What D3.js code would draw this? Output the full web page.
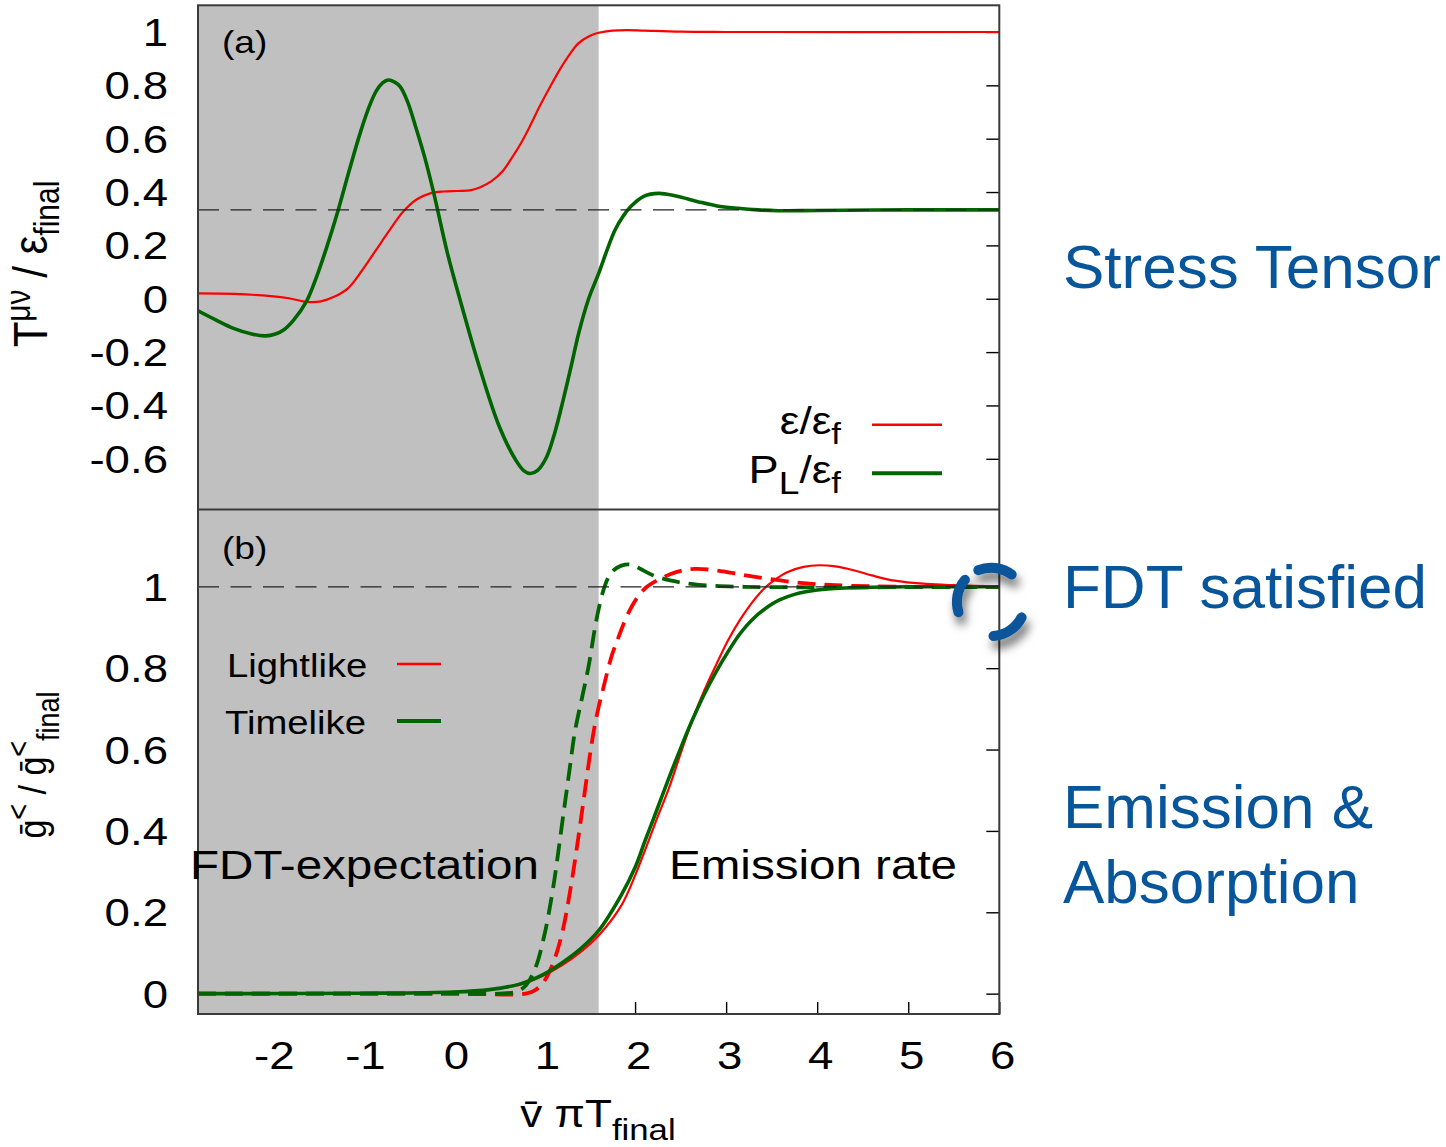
<!DOCTYPE html>
<html>
<head>
<meta charset="utf-8">
<script src="https://cdn.jsdelivr.net/npm/d3@7"></script>
<style>
  html, body { margin: 0; padding: 0; background: #fff; }
  svg { display: block; }
  text { white-space: pre; }
</style>
</head>
<body>
<svg id="chart" width="1446" height="1147"></svg>
<script>
// ---------------- data ----------------
const xTicks = [-2, -1, 0, 1, 2, 3, 4, 5, 6];
const yTicksTop = [-0.6, -0.4, -0.2, 0, 0.2, 0.4, 0.6, 0.8, 1];
const yTicksBottom = [0, 0.2, 0.4, 0.6, 0.8, 1];
const shadeEnd = 1.6;          // end of the FDT-expectation window
const pressureRef = 1 / 3;     // conformal value of P_L / eps_f
const fdtRef = 1;              // FDT value of g< / g<_final

// panel (a): energy density eps/eps_f
const energyX = [-2.8, -2.4, -2.0, -1.8, -1.6, -1.45, -1.3, -1.15, -1.0, -0.85, -0.7, -0.55, -0.4, -0.25, -0.1, 0.05, 0.2, 0.3, 0.42, 0.55, 0.65, 0.75, 0.85, 0.95, 1.06, 1.17, 1.28, 1.38, 1.5, 1.6, 1.75, 1.91, 2.1, 2.5, 3.0, 6.0];
const energyY = [0.02, 0.018, 0.01, 0.002, -0.012, -0.01, 0.008, 0.04, 0.105, 0.18, 0.255, 0.325, 0.372, 0.395, 0.402, 0.404, 0.407, 0.418, 0.44, 0.48, 0.53, 0.585, 0.65, 0.72, 0.79, 0.857, 0.915, 0.958, 0.985, 0.997, 1.005, 1.007, 1.005, 1.001, 1.0, 1.0];

// panel (a): longitudinal pressure P_L/eps_f
const pressureX = [-2.8, -2.6, -2.41, -2.2, -2.06, -1.95, -1.86, -1.75, -1.61, -1.5, -1.38, -1.26, -1.14, -1.02, -0.92, -0.84, -0.77, -0.71, -0.64, -0.58, -0.5, -0.41, -0.31, -0.21, -0.06, 0.12, 0.29, 0.51, 0.69, 0.78, 0.85, 0.93, 1.03, 1.12, 1.21, 1.3, 1.38, 1.49, 1.6, 1.7, 1.78, 1.87, 1.95, 2.1, 2.26, 2.45, 2.69, 2.9, 3.13, 3.35, 3.57, 4.0, 5.0, 6.0];
const pressureY = [-0.045, -0.08, -0.111, -0.133, -0.139, -0.132, -0.117, -0.08, -0.011, 0.08, 0.2, 0.333, 0.48, 0.62, 0.72, 0.78, 0.81, 0.82, 0.812, 0.795, 0.74, 0.645, 0.53, 0.395, 0.17, -0.055, -0.255, -0.48, -0.605, -0.645, -0.655, -0.643, -0.592, -0.5, -0.38, -0.25, -0.13, 0.0, 0.095, 0.19, 0.258, 0.31, 0.345, 0.385, 0.395, 0.385, 0.364, 0.348, 0.339, 0.333, 0.33, 0.331, 0.333, 0.333];

// panel (b): emission rate (solid)
const lightEmitX = [-2.8, -1.0, 0.0, 0.4, 0.74, 1.0, 1.2, 1.4, 1.6, 1.85, 2.0, 2.11, 2.24, 2.37, 2.5, 2.63, 2.76, 2.89, 3.02, 3.15, 3.28, 3.41, 3.54, 3.67, 3.85, 4.02, 4.2, 4.41, 4.6, 4.85, 5.2, 5.5, 6.0];
const lightEmitY = [0.0, 0.001, 0.004, 0.01, 0.022, 0.045, 0.07, 0.102, 0.143, 0.217, 0.29, 0.353, 0.43, 0.504, 0.59, 0.673, 0.745, 0.808, 0.868, 0.918, 0.96, 0.994, 1.018, 1.036, 1.049, 1.053, 1.05, 1.04, 1.028, 1.015, 1.007, 1.004, 1.001];
const timeEmitX = [-2.8, -1.0, 0.0, 0.4, 0.74, 1.0, 1.2, 1.4, 1.6, 1.85, 2.0, 2.11, 2.24, 2.37, 2.5, 2.63, 2.76, 2.89, 3.02, 3.15, 3.28, 3.41, 3.58, 3.76, 4.0, 4.19, 4.6, 5.0, 6.0];
const timeEmitY = [0.0, 0.001, 0.004, 0.01, 0.024, 0.048, 0.076, 0.11, 0.155, 0.243, 0.31, 0.376, 0.452, 0.529, 0.603, 0.673, 0.736, 0.791, 0.84, 0.884, 0.918, 0.943, 0.967, 0.982, 0.992, 0.996, 0.999, 1.0, 1.0];

// panel (b): FDT expectation (dashed)
const lightFdtX = [-2.8, 0.0, 0.8, 0.9, 1.0, 1.1, 1.2, 1.3, 1.4, 1.45, 1.5, 1.55, 1.6, 1.65, 1.7, 1.75, 1.8, 1.85, 1.91, 2.02, 2.13, 2.28, 2.45, 2.65, 2.9, 3.3, 3.76, 4.2, 5.0, 6.0];
const lightFdtY = [0.0, 0.0, 0.0, 0.008, 0.03, 0.075, 0.15, 0.27, 0.42, 0.5, 0.58, 0.65, 0.705, 0.75, 0.795, 0.835, 0.865, 0.895, 0.928, 0.972, 1.0, 1.02, 1.036, 1.044, 1.04, 1.025, 1.011, 1.004, 1.0, 1.0];
const timeFdtX = [-2.8, 0.0, 0.5, 0.7, 0.8, 0.9, 1.0, 1.1, 1.2, 1.28, 1.34, 1.42, 1.49, 1.56, 1.6, 1.65, 1.7, 1.76, 1.85, 1.95, 2.05, 2.2, 2.4, 2.7, 3.2, 6.0];
const timeFdtY = [0.0, 0.0, 0.0, 0.005, 0.02, 0.06, 0.14, 0.26, 0.42, 0.55, 0.645, 0.73, 0.805, 0.9, 0.945, 0.99, 1.02, 1.04, 1.052, 1.055, 1.045, 1.028, 1.015, 1.005, 1.0, 1.0];

// ---------------- layout ----------------
const svg = d3.select("#chart");
const FONT = "'Liberation Sans', Arial, Helvetica, sans-serif";
const SX = 1.16;                 // horizontal stretch of the plot lettering
const SX_TICK = 1.2;             // tick numbers are set a little wider
const L = 198, R = 999.3, T = 5.3, MID = 509.5, B = 1014;

const x = d3.scaleLinear().domain([-2.8, 6]).range([L, R]);
const yTop = d3.scaleLinear().domain([-0.79, 1.1]).range([MID, T]);
const yBot = d3.scaleLinear().domain([-0.05, 1.19]).range([B, MID]);

const RED = "#ff0000", GREEN = "#006400", BLUE = "#07559a", SHADE = "#c0c0c0";

const defs = svg.append("defs");
defs.append("clipPath").attr("id", "clipTop").append("rect")
  .attr("x", L).attr("y", T).attr("width", R - L).attr("height", MID - T);
defs.append("clipPath").attr("id", "clipBot").append("rect")
  .attr("x", L).attr("y", MID).attr("width", R - L).attr("height", B - MID);
const shadow = defs.append("filter").attr("id", "ringShadow")
  .attr("x", "-50%").attr("y", "-50%").attr("width", "200%").attr("height", "200%");
shadow.append("feDropShadow").attr("dx", 3).attr("dy", 8).attr("stdDeviation", 5)
  .attr("flood-color", "#000").attr("flood-opacity", 0.55);

// rich text helper: parts are tspans with their own size and baseline shifts
function label(parent, px, py, parts, opts = {}) {
  const sx = opts.sx ?? SX;
  const t = parent.append("text")
    .attr("transform", `translate(${px},${py}) scale(${sx},1)` + (opts.rotate ? ` rotate(${opts.rotate})` : ""))
    .attr("text-anchor", opts.anchor || "start")
    .attr("font-family", FONT)
    .attr("fill", opts.fill || "#000");
  parts.forEach(p => {
    const s = t.append("tspan").attr("font-size", p.size).text(p.t);
    if (p.dy) s.attr("dy", p.dy);
    if (p.dx) s.attr("dx", p.dx);
  });
  return t;
}

// ---------------- inner ticks (right and bottom mirrors) ----------------
function styleTicks(g) {
  g.select(".domain").remove();
  g.selectAll(".tick line").attr("stroke", "#000").attr("stroke-width", 1.4);
  g.selectAll(".tick text").remove();
}
svg.append("g").attr("transform", `translate(${R},0)`)
  .call(d3.axisRight(yTop).tickValues(yTicksTop).tickSizeInner(-13).tickSizeOuter(0).tickFormat(""))
  .call(styleTicks);
svg.append("g").attr("transform", `translate(${R},0)`)
  .call(d3.axisRight(yBot).tickValues(yTicksBottom).tickSizeInner(-13).tickSizeOuter(0).tickFormat(""))
  .call(styleTicks);
svg.append("g").attr("transform", `translate(0,${B})`)
  .call(d3.axisBottom(x).tickValues(xTicks).tickSizeInner(-12).tickSizeOuter(0).tickFormat(""))
  .call(styleTicks);

// ---------------- shaded FDT window ----------------
svg.append("rect")
  .attr("x", x(-2.8)).attr("y", T)
  .attr("width", x(shadeEnd) - x(-2.8)).attr("height", B - T)
  .attr("fill", SHADE);

// ---------------- curves ----------------
const smooth = d3.curveCatmullRom.alpha(0.5);
const lineTop = d3.line().x(d => x(d[0])).y(d => yTop(d[1])).curve(smooth);
const lineBot = d3.line().x(d => x(d[0])).y(d => yBot(d[1])).curve(smooth);

const gTop = svg.append("g").attr("clip-path", "url(#clipTop)");
gTop.append("path").datum(d3.zip(energyX, energyY)).attr("d", lineTop)
  .attr("fill", "none").attr("stroke", RED).attr("stroke-width", 2.2);
gTop.append("path").datum(d3.zip(pressureX, pressureY)).attr("d", lineTop)
  .attr("fill", "none").attr("stroke", GREEN).attr("stroke-width", 3.6);
gTop.append("line")
  .attr("x1", L).attr("x2", R).attr("y1", yTop(pressureRef)).attr("y2", yTop(pressureRef))
  .attr("stroke", "#222").attr("stroke-width", 1.2).attr("stroke-dasharray", "21,11.5");

const gBot = svg.append("g").attr("clip-path", "url(#clipBot)");
gBot.append("path").datum(d3.zip(lightFdtX, lightFdtY)).attr("d", lineBot)
  .attr("fill", "none").attr("stroke", RED).attr("stroke-width", 3.8).attr("stroke-dasharray", "18,9");
gBot.append("path").datum(d3.zip(timeFdtX, timeFdtY)).attr("d", lineBot)
  .attr("fill", "none").attr("stroke", GREEN).attr("stroke-width", 3.8).attr("stroke-dasharray", "18,9");
gBot.append("path").datum(d3.zip(lightEmitX, lightEmitY)).attr("d", lineBot)
  .attr("fill", "none").attr("stroke", RED).attr("stroke-width", 2.2);
gBot.append("path").datum(d3.zip(timeEmitX, timeEmitY)).attr("d", lineBot)
  .attr("fill", "none").attr("stroke", GREEN).attr("stroke-width", 3.6);
gBot.append("line")
  .attr("x1", L).attr("x2", R).attr("y1", yBot(fdtRef)).attr("y2", yBot(fdtRef))
  .attr("stroke", "#222").attr("stroke-width", 1.2).attr("stroke-dasharray", "21,11.5");

// ---------------- frame ----------------
svg.append("rect").attr("x", L).attr("y", T).attr("width", R - L).attr("height", B - T)
  .attr("fill", "none").attr("stroke", "#3a3a3a").attr("stroke-width", 2);
svg.append("line").attr("x1", L).attr("x2", R).attr("y1", MID).attr("y2", MID)
  .attr("stroke", "#3a3a3a").attr("stroke-width", 2);

// ---------------- tick labels ----------------
function styleLabels(g, tf) {
  g.select(".domain").remove();
  g.selectAll(".tick line").remove();
  g.attr("font-family", FONT).attr("font-size", 38);
  g.selectAll(".tick text").attr("fill", "#000").attr("x", 0).attr("y", 0).attr("dy", null).attr("transform", tf);
}
svg.append("g").attr("transform", `translate(${L},0)`)
  .call(d3.axisLeft(yTop).tickValues(yTicksTop).tickSize(0).tickFormat(d => String(d)))
  .call(g => styleLabels(g, `translate(-30,13.5) scale(${SX_TICK},1)`));
svg.append("g").attr("transform", `translate(${L},0)`)
  .call(d3.axisLeft(yBot).tickValues(yTicksBottom).tickSize(0).tickFormat(d => String(d)))
  .call(g => styleLabels(g, `translate(-30,13.5) scale(${SX_TICK},1)`));
svg.append("g").attr("transform", `translate(0,${B})`)
  .call(d3.axisBottom(x).tickValues(xTicks).tickSize(0).tickFormat(d => String(d)))
  .call(g => styleLabels(g, `translate(3,55) scale(${SX_TICK},1)`));

// ---------------- axis titles ----------------
const ann = svg.append("g");
label(ann, 47, 264, [
  { t: "T", size: 42 }, { t: "μν", size: 30, dy: -15 },
  { t: " / ε", size: 42, dy: 15 }, { t: "final", size: 30, dy: 10 }
], { anchor: "middle", rotate: -90 });
label(ann, 46, 765, [
  { t: "\u1E21", size: 34 }, { t: "<", size: 27, dy: -15 },
  { t: " / \u1E21", size: 34, dy: 15 }, { t: "<", size: 27, dy: -15 },
  { t: "final", size: 27, dy: 26 }
], { anchor: "middle", rotate: -90 });
label(ann, 598, 1127, [
  { t: "v\u0304 π", size: 38 }, { t: "T", size: 38 }, { t: "final", size: 30, dy: 13 }
], { anchor: "middle" });

// ---------------- panel tags and legends ----------------
label(ann, 222, 53, [{ t: "(a)", size: 32 }]);
label(ann, 222, 559, [{ t: "(b)", size: 32 }]);

label(ann, 841, 434, [{ t: "ε/ε", size: 38 }, { t: "f", size: 30, dy: 10 }], { anchor: "end" });
label(ann, 841, 483, [
  { t: "P", size: 39 }, { t: "L", size: 32, dy: 11 },
  { t: "/ε", size: 38, dy: -11 }, { t: "f", size: 30, dy: 10 }
], { anchor: "end" });
ann.append("line").attr("x1", 872).attr("x2", 942).attr("y1", 424.7).attr("y2", 424.7)
  .attr("stroke", RED).attr("stroke-width", 2.4);
ann.append("line").attr("x1", 872).attr("x2", 942).attr("y1", 473.3).attr("y2", 473.3)
  .attr("stroke", GREEN).attr("stroke-width", 4);

label(ann, 227, 677, [{ t: "Lightlike", size: 33 }]);
label(ann, 225, 734, [{ t: "Timelike", size: 33 }]);
ann.append("line").attr("x1", 397).attr("x2", 441).attr("y1", 664).attr("y2", 664)
  .attr("stroke", RED).attr("stroke-width", 2.4);
ann.append("line").attr("x1", 397).attr("x2", 441).attr("y1", 721).attr("y2", 721)
  .attr("stroke", GREEN).attr("stroke-width", 4);

label(ann, 190, 879, [{ t: "FDT-expectation", size: 41 }]);
label(ann, 669, 879, [{ t: "Emission rate", size: 41 }]);

// ---------------- ring marking where FDT is reached ----------------
const ringCx = x(5.91), ringCy = yBot(0.963), ringR = 34.2;
const ringArcs = [[27, 86], [162.5, 220], [248, 307]];
const ring = svg.append("g").attr("filter", "url(#ringShadow)");
ringArcs.forEach(([a0, a1]) => {
  const p = d3.path();
  p.arc(ringCx, ringCy, ringR, a0 * Math.PI / 180, a1 * Math.PI / 180);
  ring.append("path").attr("d", p.toString())
    .attr("fill", "none").attr("stroke", BLUE).attr("stroke-width", 10).attr("stroke-linecap", "round");
});

// ---------------- side captions ----------------
const side = svg.append("g").attr("font-family", FONT).attr("fill", BLUE).attr("font-size", 62);
side.append("text").attr("x", 1063).attr("y", 288).text("Stress Tensor");
side.append("text").attr("x", 1063).attr("y", 608).text("FDT satisfied");
side.append("text").attr("x", 1063).attr("y", 828).text("Emission &");
side.append("text").attr("x", 1063).attr("y", 903).text("Absorption");
</script>
</body>
</html>
